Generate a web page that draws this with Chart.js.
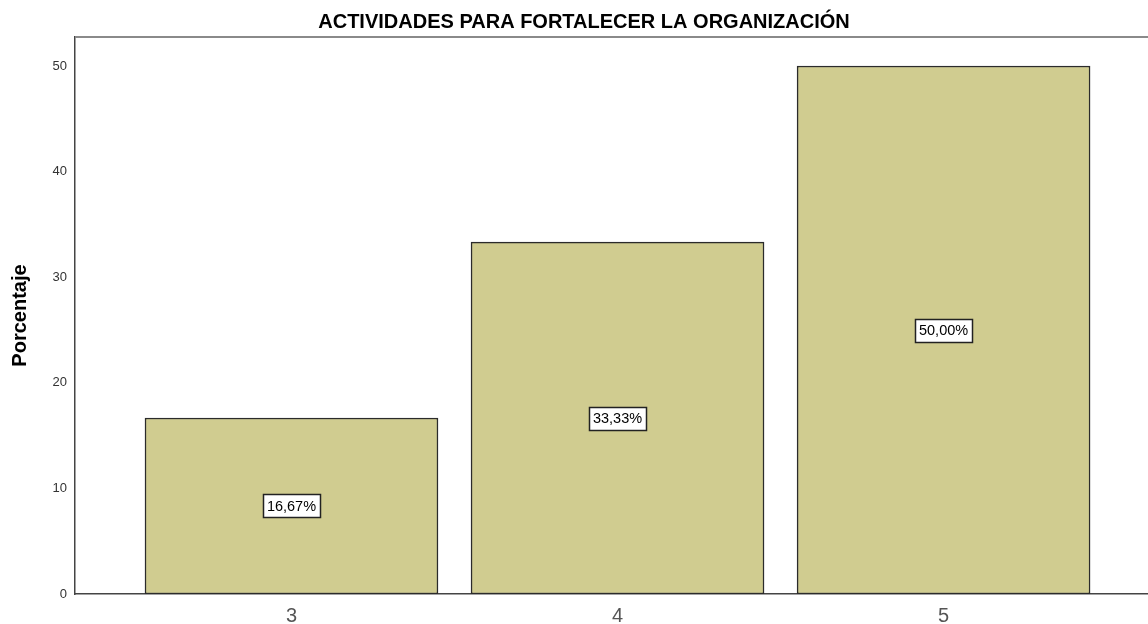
<!DOCTYPE html>
<html>
<head>
<meta charset="utf-8">
<script src="https://cdn.jsdelivr.net/npm/chart.js@4/dist/chart.umd.min.js"></script>
<style>
  html, body { margin: 0; padding: 0; background: #fff; }
  #wrap { width: 1148px; height: 624px; }
</style>
</head>
<body>
<div id="wrap"><canvas id="barChart"></canvas></div>
<script>
// Chart data
const chartTitle = 'ACTIVIDADES PARA FORTALECER LA ORGANIZACIÓN';
const categories = [3, 4, 5];
const percentages = [16.67, 33.33, 50.00];
const yTicks = [0, 10, 20, 30, 40, 50];

const FONT = '"Liberation Sans", Arial, sans-serif';

// Title + top frame line + value boxes
const decorPlugin = {
    id: 'decor',
    afterDatasetsDraw(chart) {
        const ctx = chart.ctx;
        const area = chart.chartArea;
        ctx.save();
        // top frame line
        ctx.strokeStyle = '#8a8a8a';
        ctx.lineWidth = 2;
        ctx.beginPath();
        ctx.moveTo(area.left, area.top);
        ctx.lineTo(chart.width, area.top);
        ctx.stroke();

        // title
        ctx.fillStyle = '#000';
        ctx.font = 'bold 20px ' + FONT;
        ctx.textAlign = 'center';
        ctx.textBaseline = 'alphabetic';
        ctx.fillText(chartTitle, 584, 28);

        // value labels in white boxes
        const meta = chart.getDatasetMeta(0);
        ctx.font = '14.5px ' + FONT;
        ctx.textBaseline = 'middle';
        meta.data.forEach((bar, i) => {
            const text = percentages[i].toFixed(2).replace('.', ',') + '%';
            const cy = (bar.y + bar.base) / 2;
            const w = Math.round(ctx.measureText(text).width + 8);
            const h = 23;
            const x0 = Math.round(bar.x - w / 2) + 0.5;
            const y0 = Math.round(cy - h / 2) + 0.5;
            ctx.fillStyle = '#fff';
            ctx.fillRect(x0, y0, w, h);
            ctx.strokeStyle = '#222';
            ctx.lineWidth = 1.5;
            ctx.strokeRect(x0, y0, w, h);
            ctx.fillStyle = '#000';
            ctx.fillText(text, bar.x, cy + 1);
        });
        ctx.restore();
    }
};

new Chart(document.getElementById('barChart'), {
    type: 'bar',
    data: {
        datasets: [{
            data: categories.map((c, i) => ({ x: c, y: percentages[i] })),
            backgroundColor: '#d0cc90',
            borderColor: '#2b2b2b',
            borderWidth: 1.5,
            borderSkipped: false,
            barThickness: 293
        }]
    },
    options: {
        responsive: true,
        maintainAspectRatio: false,
        animation: false,
        layout: { padding: { top: 37, left: 0, right: 0, bottom: 0 } },
        plugins: { legend: { display: false }, tooltip: { enabled: false }, title: { display: false } },
        scales: {
            x: {
                type: 'linear',
                offset: false,
                min: 2.336,
                max: 5.627,
                afterBuildTicks: (scale) => { scale.ticks = categories.map(v => ({ value: v })); },
                afterFit: (scale) => { scale.height = 30; },
                grid: { display: false, drawTicks: false },
                border: { display: true, color: '#444', width: 1.5 },
                ticks: {
                    color: '#555',
                    padding: 10,
                    font: { family: FONT, size: 20 }
                }
            },
            y: {
                min: 0,
                max: 52.75,
                afterBuildTicks: (scale) => { scale.ticks = yTicks.map(v => ({ value: v })); },
                afterFit: (scale) => { scale.width = 75; },
                grid: { display: false, drawTicks: false },
                border: { display: true, color: '#444', width: 1.5 },
                title: {
                    display: true,
                    text: 'Porcentaje',
                    color: '#000',
                    padding: { top: 8, bottom: 10 },
                    font: { family: FONT, size: 20, weight: 'bold' }
                },
                ticks: {
                    color: '#333',
                    padding: 8,
                    font: { family: FONT, size: 13 }
                }
            }
        }
    },
    plugins: [decorPlugin]
});
</script>
</body>
</html>
